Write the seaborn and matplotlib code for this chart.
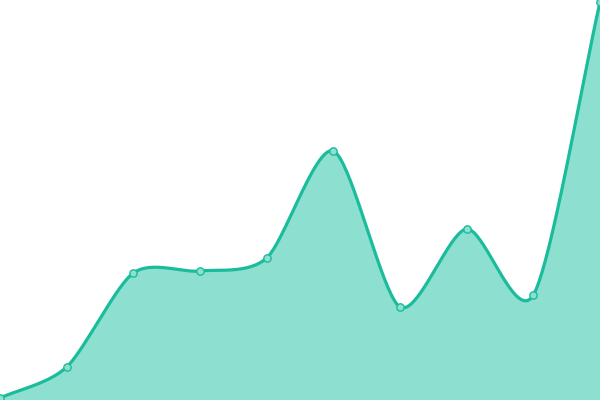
import numpy as np
import pandas as pd
import seaborn as sns
import matplotlib
matplotlib.use("Agg")
import matplotlib.pyplot as plt

# data
categories = list(range(10))
values = [2, 33, 127, 129, 142, 249, 93, 171, 105, 398]

LINE = "#1abc9c"
FILL = "#8de0cf"

def cardinal(x, y, n=40, k=0.8):
    x = np.asarray(x, float); y = np.asarray(y, float)
    def tangents(v):
        m = np.zeros_like(v)
        m[1:-1] = (v[2:] - v[:-2]) / 2
        m[0] = v[1] - v[0]
        m[-1] = v[-1] - v[-2]
        return m * k
    mx, my = tangents(x), tangents(y)
    t = np.linspace(0, 1, n, endpoint=False)
    h00 = 2*t**3 - 3*t**2 + 1; h10 = t**3 - 2*t**2 + t
    h01 = -2*t**3 + 3*t**2;    h11 = t**3 - t**2
    xs, ys = [], []
    for i in range(len(x)-1):
        xs.append(h00*x[i] + h10*mx[i] + h01*x[i+1] + h11*mx[i+1])
        ys.append(h00*y[i] + h10*my[i] + h01*y[i+1] + h11*my[i+1])
    xs.append([x[-1]]); ys.append([y[-1]])
    return np.concatenate(xs), np.concatenate(ys)

sns.set_style("white")
fig = plt.figure(figsize=(6, 4), dpi=100)
ax = fig.add_axes([0, 0, 1, 1])

sx, sy = cardinal(categories, values)
smooth = pd.DataFrame({"x": sx, "y": sy})
ax.fill_between(sx, 0, sy, color=FILL, linewidth=0, zorder=1)
sns.lineplot(data=smooth, x="x", y="y", ax=ax, color=LINE, linewidth=2.3, zorder=2, sort=False)
pts = pd.DataFrame({"x": categories, "y": values})
sns.scatterplot(data=pts, x="x", y="y", ax=ax, s=28, color=FILL, edgecolor=LINE, linewidth=1, zorder=3, clip_on=False)

ax.set_xlim(0, 9)
ax.set_ylim(0, 400)
ax.set_axis_off()
fig.savefig("out.png", dpi=100)
